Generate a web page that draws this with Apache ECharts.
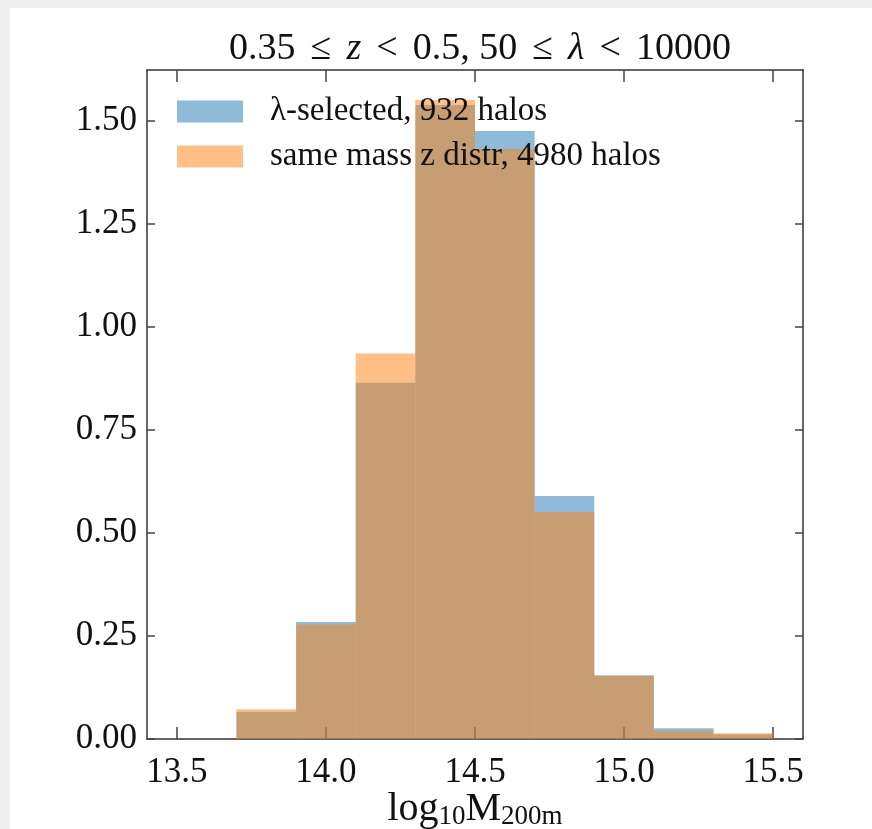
<!DOCTYPE html>
<html>
<head>
<meta charset="utf-8">
<script src="https://cdn.jsdelivr.net/npm/echarts@6/dist/echarts.min.js"></script>
<style>
  html, body { margin: 0; padding: 0; background: #efefef; }
  #frame { position: absolute; left: 10px; top: 8px; width: 862px; height: 821px; background: #fff; }
  #chart { width: 862px; height: 821px; }
</style>
</head>
<body>
<div id="frame"><div id="chart"></div></div>
<script>
// histogram bins (log10 M200m), width 0.2
const binEdges = [13.5, 13.7, 13.9, 14.1, 14.3, 14.5, 14.7, 14.9, 15.1, 15.3, 15.5];
const lambdaSelected = [0, 0.066, 0.284, 0.865, 1.539, 1.476, 0.590, 0.155, 0.026, 0.011];
const sameMassZ = [0, 0.072, 0.278, 0.936, 1.551, 1.432, 0.551, 0.153, 0.020, 0.014];
const xTicks = [13.5, 14.0, 14.5, 15.0, 15.5];
const yTicks = [0, 0.25, 0.5, 0.75, 1.0, 1.25, 1.5];
const seriesNames = ['λ-selected, 932 halos', 'same mass z distr, 4980 halos'];

const serif = '"Liberation Serif", "DejaVu Serif", serif';
const ox = 10, oy = 8; // frame offset

function toBins(vals) {
  return vals.map((v, i) => [binEdges[i], binEdges[i + 1], v]);
}

function renderBar(params, api) {
  const p0 = api.coord([api.value(0), api.value(2)]);
  const p1 = api.coord([api.value(1), 0]);
  return {
    type: 'rect',
    shape: { x: p0[0], y: p0[1], width: p1[0] - p0[0], height: p1[1] - p0[1] },
    style: { fill: api.visual('color') }
  };
}

const chart = echarts.init(document.getElementById('chart'));

const xBase = {
  type: 'value', min: 13.4, max: 15.6,
  splitLine: { show: false },
  axisLine: { onZero: false, lineStyle: { color: '#333', width: 1.5 } },
  axisTick: { inside: true, length: 12, customValues: xTicks, lineStyle: { color: '#444', width: 1.5 } }
};
const yBase = {
  type: 'value', min: 0, max: 1.624,
  splitLine: { show: false },
  axisLine: { show: true, onZero: false, lineStyle: { color: '#333', width: 1.5 } },
  axisTick: { show: true, inside: true, length: 8, customValues: yTicks, lineStyle: { color: '#444', width: 1.5 } }
};

const rel = { fontFamily: serif, fontSize: 38, color: '#111', padding: [0, 15, 0, 15] };

const option = {
  animation: false,
  textStyle: { fontFamily: serif },
  title: {
    text: '0.35{r|≤}{i|z}{r|<}0.5, 50{r|≤}{i|λ}{r|<}10000',
    left: 475 - ox, top: 25 - oy, textAlign: 'center',
    textStyle: {
      fontFamily: serif, fontSize: 38, fontWeight: 'normal', color: '#111',
      rich: {
        i: { fontFamily: serif, fontSize: 38, fontStyle: 'italic', color: '#111' },
        r: rel
      }
    }
  },
  legend: {
    left: 177 - ox, top: 95 - oy, orient: 'vertical', padding: 0,
    itemWidth: 66, itemHeight: 22, itemGap: 12,
    icon: 'rect',
    data: seriesNames,
    textStyle: { fontFamily: serif, fontSize: 33, color: '#111', padding: [0, 0, 0, 22] }
  },
  grid: {
    left: 147 - ox, right: 872 - 803, top: 70 - oy, bottom: 829 - 739,
    containLabel: false, outerBoundsMode: 'none'
  },
  xAxis: [
    Object.assign({}, xBase, {
      position: 'bottom',
      name: 'log{s|10}M{s|200m}', nameLocation: 'middle', nameGap: 50,
      nameMoveOverlap: false,
      nameTextStyle: {
        fontFamily: serif, fontSize: 40, color: '#111',
        rich: { s: { fontFamily: serif, fontSize: 27, color: '#111', padding: [14, 0, 0, 0] } }
      },
      axisLabel: {
        customValues: xTicks, margin: 16, fontFamily: serif, fontSize: 35, color: '#111',
        formatter: v => v.toFixed(1)
      }
    }),
    Object.assign({}, xBase, { position: 'top', axisLabel: { show: false } })
  ],
  yAxis: [
    Object.assign({}, yBase, {
      position: 'left',
      axisLabel: {
        customValues: yTicks, margin: 10, fontFamily: serif, fontSize: 35, color: '#111',
        formatter: v => v.toFixed(2)
      }
    }),
    Object.assign({}, yBase, { position: 'right', axisLabel: { show: false } })
  ],
  series: [
    {
      name: seriesNames[0], type: 'custom', renderItem: renderBar,
      itemStyle: { color: 'rgba(31,119,180,0.5)' },
      encode: { x: [0, 1], y: 2 },
      data: toBins(lambdaSelected)
    },
    {
      name: seriesNames[1], type: 'custom', renderItem: renderBar,
      itemStyle: { color: 'rgba(255,127,14,0.5)' },
      encode: { x: [0, 1], y: 2 },
      data: toBins(sameMassZ)
    }
  ]
};

chart.setOption(option);
</script>
</body>
</html>
